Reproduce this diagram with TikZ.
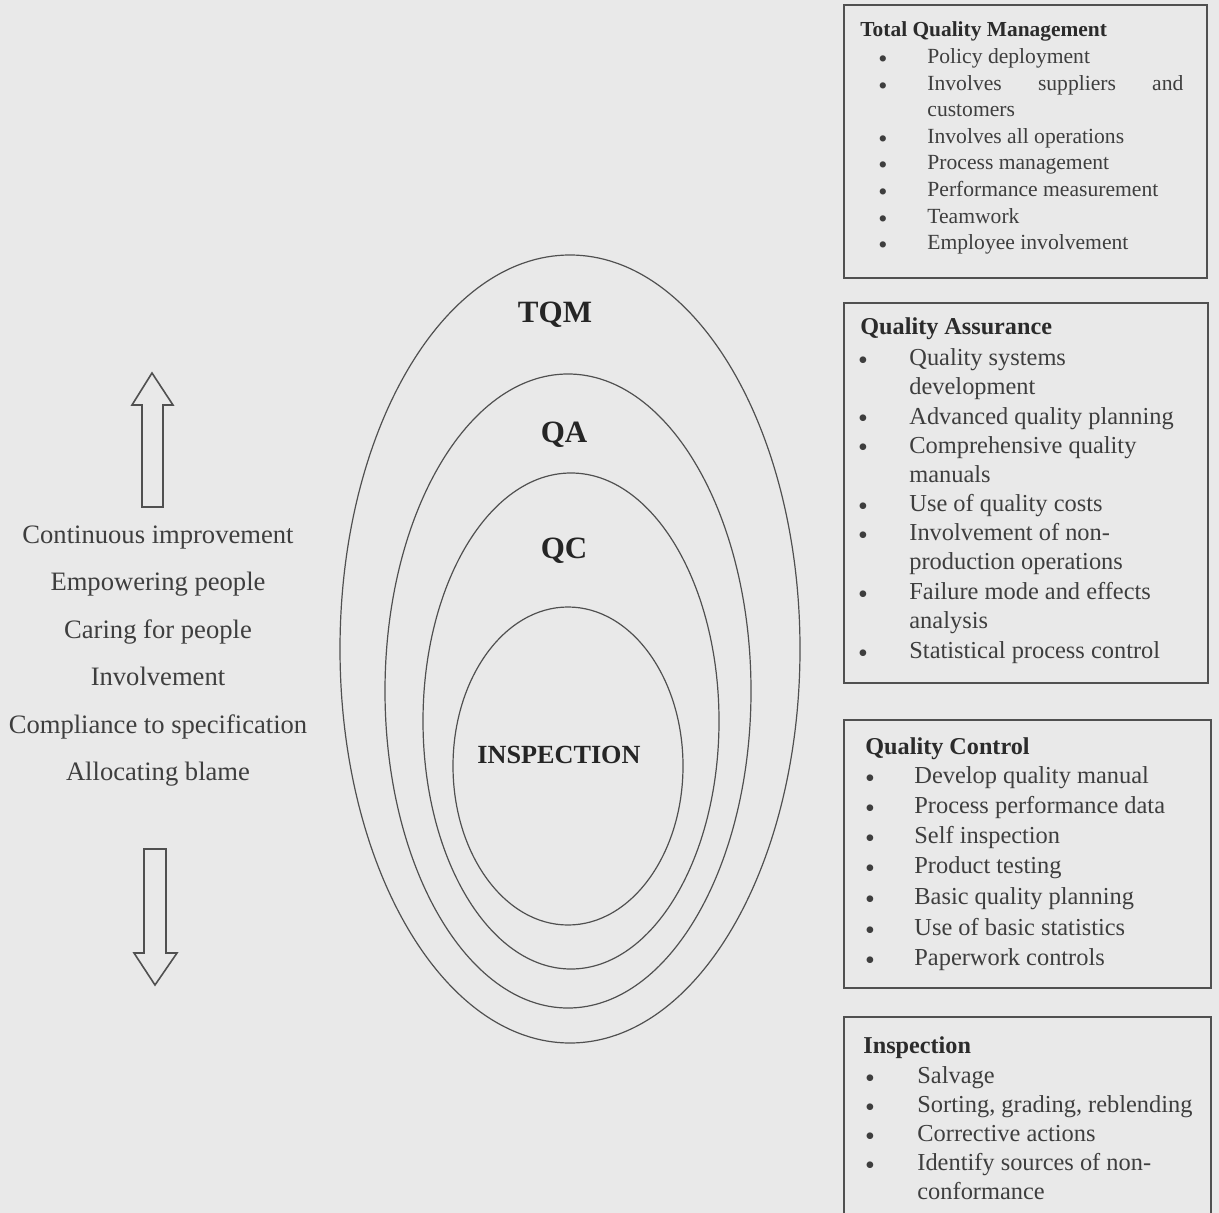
\documentclass[tikz,border=0pt]{standalone}
\usepackage{fontspec}
\setmainfont{Liberation Serif}
\definecolor{papier}{RGB}{233,233,233}
\definecolor{encre}{RGB}{62,62,62}
\definecolor{trait}{RGB}{80,80,80}
\begin{document}
\begin{tikzpicture}[x=0.5pt,y=-0.5pt,
  texte/.style={inner sep=0pt,text=encre,anchor=base west,font=\fontsize{12.2}{14}\selectfont},
  petit/.style={texte,font=\fontsize{10.8}{13}\selectfont},
  puce/.style={inner sep=0pt,text=encre,anchor=base,yshift=-2pt,font=\fontsize{14}{16}\selectfont},
  entete/.style={texte,text=encre!70!black,font=\bfseries\fontsize{12.1}{14}\selectfont},
  gauche/.style={inner sep=0pt,text=encre,anchor=base,font=\fontsize{13.3}{16}\selectfont},
  niveau/.style={inner sep=0pt,text=encre!60!black,anchor=base,font=\bfseries\fontsize{15.5}{18}\selectfont},
  ovale/.style={draw=trait,line width=0.6pt},
  cadre/.style={draw=trait,line width=0.7pt},
  fleche/.style={draw=trait,line width=0.8pt,line join=miter}]
  \fill[papier] (0,0) rectangle (1219,1213);
  \useasboundingbox (0,0) rectangle (1219,1213);
  % les ovales
  \foreach \cx/\cy/\a/\b in {570/649/230/394, 568/691/183/317,
    571/721/148/248, 568/766/115/159}{
    \draw[ovale] (\cx,\cy) ellipse [x radius=\a, y radius=\b];
    }
  \node[niveau] (tqm) at (555,323) {TQM};
  \node[niveau] (qa) at (564,443) {QA};
  \node[niveau] (qc) at (564,558) {QC};
  \node[niveau,font=\bfseries\fontsize{13.1}{16}\selectfont] (insp) at (559,763) {INSPECTION};
  % fleches et liste de gauche
  \draw[fleche] (142,507) -- (142,405) -- (132,405) -- (152,373) -- (173,405)
    -- (163,405) -- (163,507) -- cycle;
  \draw[fleche] (144,849) -- (144,953) -- (134,953) -- (155,985) -- (177,953)
    -- (166,953) -- (166,849) -- cycle;
  \foreach \y/\t [count=\k] in {543/Continuous improvement, 590/Empowering people,
    638/Caring for people, 685/Involvement, 733/Compliance to specification,
    780/Allocating blame}{
    \node[gauche] (etape-\k) at (158,\y) {\t};
    }
  % cadres
  \draw[cadre] (844,5) rectangle (1207,278);
  \draw[cadre] (844,303) rectangle (1208,683);
  \draw[cadre] (844,720) rectangle (1211,988);
  \draw[cadre] (844,1213) |- (1211,1017) -- (1211,1213);
  % Total Quality Management
  \node[entete,font=\bfseries\fontsize{10.7}{13}\selectfont] (tqmtitre) at (860,37) {Total Quality Management};
  \foreach \y/\t [count=\k] in {64/Policy deployment,
    91/{\makebox[128pt][s]{Involves suppliers and}}, 117/customers,
    144/Involves all operations, 170/Process management,
    197/Performance measurement, 224/Teamwork, 250/Employee involvement}{
    \node[petit] (tqm-\k) at (927,\y) {\t};
    }
  \foreach \y [count=\k] in {64,91,144,170,197,224,250}
    \node[puce,font=\fontsize{13}{15}\selectfont] (tqmpt-\k) at (883,\y) {\textbullet};
  % Quality Assurance
  \node[entete] (qatitre) at (860,335) {Quality Assurance};
  \foreach \y/\t [count=\k] in {366/Quality systems, 395/development,
    424/Advanced quality planning, 453/Comprehensive quality, 482/manuals,
    511/Use of quality costs, 540/Involvement of non-, 569/production operations,
    599/Failure mode and effects, 628/analysis, 658/Statistical process control}{
    \node[texte] (qa-\k) at (909,\y) {\t};
    }
  \foreach \y [count=\k] in {366,424,453,511,540,599,658}
    \node[puce] (qapt-\k) at (863,\y) {\textbullet};
  % Quality Control
  \node[entete] (qctitre) at (865,754) {Quality Control};
  \foreach \y/\t [count=\k] in {783/Develop quality manual,
    813/Process performance data, 843/Self inspection, 873/Product testing,
    904/Basic quality planning, 935/Use of basic statistics,
    965/Paperwork controls}{
    \node[texte] (qc-\k) at (914,\y) {\t};
    \node[puce] (qcpt-\k) at (870,\y) {\textbullet};
    }
  % Inspection
  \node[entete] (insptitre) at (863,1053) {Inspection};
  \foreach \y/\t [count=\k] in {1083/Salvage, 1112/{Sorting, grading, reblending},
    1141/Corrective actions, 1170/Identify sources of non-, 1199/conformance}{
    \node[texte] (insp-\k) at (917,\y) {\t};
    }
  \foreach \y [count=\k] in {1083,1112,1141,1170}
    \node[puce] (insppt-\k) at (870,\y) {\textbullet};
\end{tikzpicture}
\end{document}
